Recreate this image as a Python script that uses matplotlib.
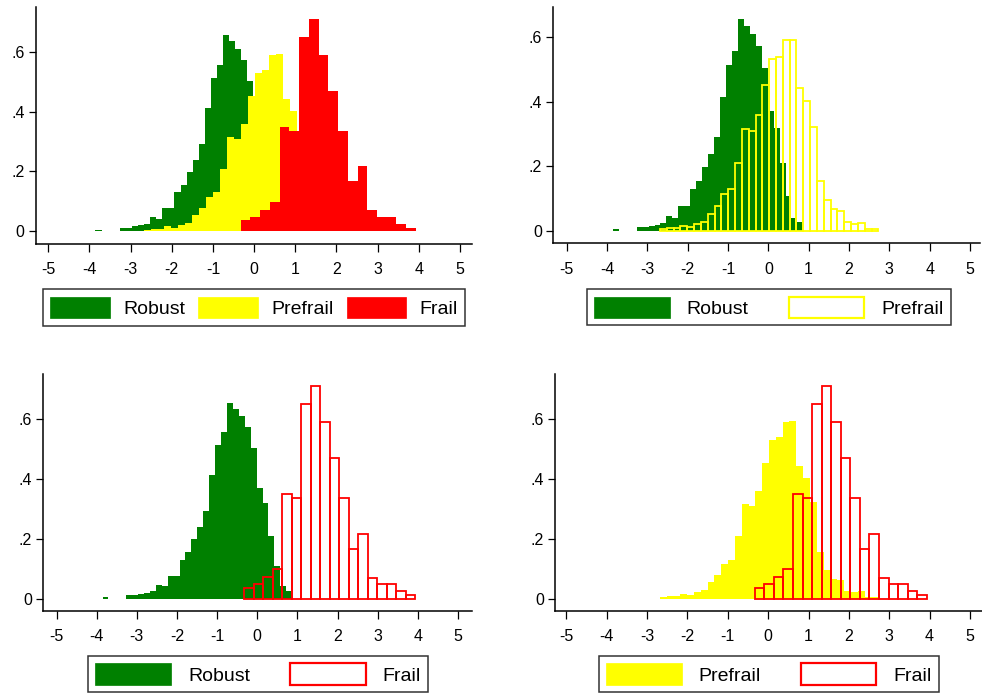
import matplotlib
matplotlib.use("Agg")
import matplotlib.pyplot as plt
from matplotlib.patches import Patch
import numpy as np

plt.rcParams['font.family'] = ['Liberation Sans', 'DejaVu Sans']

# ---------------- data (density histograms) ----------------
robust_start = -3.855
robust_width = 0.1476
robust_heights = [0.005, 0.0, 0.0, 0.0, 0.013, 0.013, 0.017, 0.020, 0.025, 0.047,
                  0.041, 0.077, 0.077, 0.130, 0.156, 0.199, 0.239, 0.291, 0.413, 0.512,
                  0.557, 0.654, 0.634, 0.608, 0.571, 0.502, 0.370, 0.319, 0.209, 0.108,
                  0.041, 0.027]

prefrail_start = -2.686
prefrail_width = 0.1692
prefrail_heights = [0.006, 0.008, 0.008, 0.017, 0.013, 0.021, 0.029, 0.054, 0.078, 0.114,
                    0.130, 0.209, 0.314, 0.308, 0.358, 0.451, 0.530, 0.538, 0.589, 0.591,
                    0.441, 0.401, 0.322, 0.156, 0.097, 0.067, 0.063, 0.027, 0.022, 0.024,
                    0.006, 0.006]

frail_start = -0.33
frail_width = 0.2367
frail_heights = [0.037, 0.048, 0.072, 0.098, 0.349, 0.336, 0.649, 0.708, 0.588, 0.468,
                 0.336, 0.167, 0.217, 0.070, 0.048, 0.048, 0.026, 0.011]

x_ticks = [-5, -4, -3, -2, -1, 0, 1, 2, 3, 4, 5]
x_ticklabels = ["-5", "-4", "-3", "-2", "-1", "0", "1", "2", "3", "4", "5"]
y_ticks = [0, 0.2, 0.4, 0.6]
y_ticklabels = ["0", ".2", ".4", ".6"]

GREEN = "#008000"
YELLOW = "#FFFF00"
RED = "#FF0000"

series = {
    "Robust": (robust_start, robust_width, robust_heights, GREEN),
    "Prefrail": (prefrail_start, prefrail_width, prefrail_heights, YELLOW),
    "Frail": (frail_start, frail_width, frail_heights, RED),
}

W, H = 982, 698
panels = [
    ((35.7, 7.0, 471.7, 243.7), (-5.306, 5.284),
     [("Robust", True), ("Prefrail", True), ("Frail", True)],
     (253.9, 307.5)),
    ((553.3, 7.0, 980.0, 243.3), (-5.332, 5.248),
     [("Robust", True), ("Prefrail", False)],
     (768.7, 307.3)),
    ((43.3, 374.0, 471.7, 611.0), (-5.33, 5.341),
     [("Robust", True), ("Frail", False)],
     (258.0, 674.2)),
    ((555.0, 374.0, 981.7, 611.0), (-5.28, 5.29),
     [("Prefrail", True), ("Frail", False)],
     (768.7, 674.2)),
]

fig = plt.figure(figsize=(W / 100, H / 100), dpi=100)

for (l, t, r, b), xlim, items, leg_center in panels:
    ax = fig.add_axes([l / W, 1 - b / H, (r - l) / W, (b - t) / H])
    ymax = 0
    handles = []
    for name, filled in items:
        start, width, heights, color = series[name]
        heights = np.asarray(heights)
        edges = start + width * np.arange(len(heights) + 1)
        ymax = max(ymax, heights.max())
        if filled:
            ax.stairs(heights, edges, fill=True, color=color, linewidth=0)
            handles.append(Patch(facecolor=color, edgecolor=color, linewidth=0.5, label=name))
        else:
            ax.bar(edges[:-1], heights, width=width, align="edge", facecolor="none",
                   edgecolor=color, linewidth=1.3)
            handles.append(Patch(facecolor="white", edgecolor=color, linewidth=1.6, label=name))
    ax.set_xlim(*xlim)
    ax.set_ylim(-0.058 * ymax, 1.058 * ymax)
    for s in ("top", "right"):
        ax.spines[s].set_visible(False)
    for s in ("left", "bottom"):
        ax.spines[s].set_linewidth(1.1)
    ax.set_xticks(x_ticks)
    ax.set_xticklabels(x_ticklabels)
    ax.set_yticks(y_ticks)
    ax.set_yticklabels(y_ticklabels)
    ax.tick_params(axis="x", direction="out", length=5.8, width=0.9, pad=7.5,
                   labelsize=11.5)
    ax.tick_params(axis="y", direction="out", length=5.0, width=0.9, pad=3,
                   labelsize=11.5)

    ncol = len(handles)
    if ncol == 3:
        hl, htp, cs = 3.08, 0.67, 0.68
    else:
        hl, htp, cs = 3.9, 0.86, 2.05
    leg = fig.legend(handles=handles, loc="center",
                     bbox_to_anchor=(leg_center[0] / W, 1 - leg_center[1] / H),
                     ncol=ncol, fontsize=14, frameon=True, fancybox=False,
                     edgecolor="black", handlelength=hl, handleheight=1.33,
                     handletextpad=htp, columnspacing=cs, borderpad=0.38)
    leg.get_frame().set_linewidth(1.1)

fig.savefig("out.png", dpi=100, facecolor="white")
